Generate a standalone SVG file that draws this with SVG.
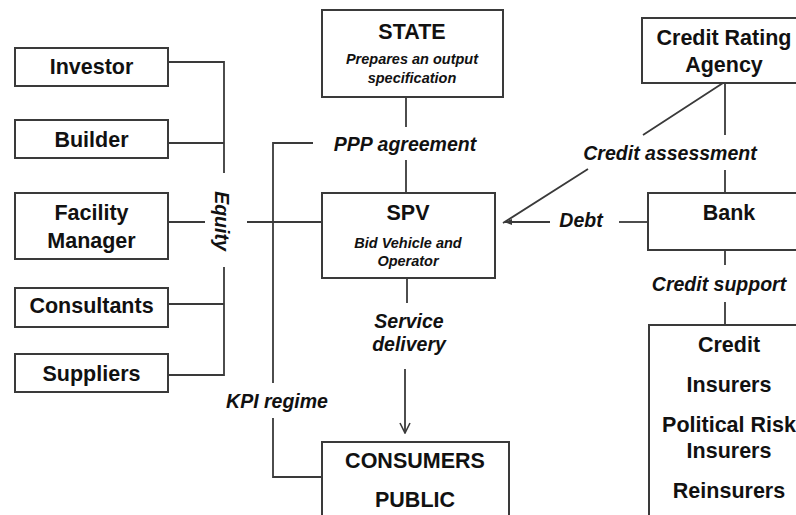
<svg xmlns="http://www.w3.org/2000/svg" width="796" height="515" viewBox="0 0 796 515">
  <style>
    .box { fill: #fff; stroke: #3a3a3a; stroke-width: 2; }
    .ln { fill: none; stroke: #3a3a3a; stroke-width: 1.8; }
    .t { font-family: "Liberation Sans", Arial, sans-serif; font-weight: bold; font-size: 21.5px; fill: #111; text-anchor: middle; }
    .s { font-family: "Liberation Sans", Arial, sans-serif; font-weight: bold; font-style: italic; font-size: 14.5px; fill: #111; text-anchor: middle; }
    .lbl { font-family: "Liberation Sans", Arial, sans-serif; font-weight: bold; font-style: italic; font-size: 19.5px; fill: #111; text-anchor: middle; }
  </style>
  <defs>
    <marker id="solid" viewBox="0 0 10 10" refX="9" refY="5" markerWidth="8" markerHeight="8" markerUnits="userSpaceOnUse" orient="auto">
      <path d="M0,1 L10,5 L0,9 Z" fill="#3a3a3a"/>
    </marker>
    <marker id="open" viewBox="0 0 12 12" refX="11" refY="6" markerWidth="12" markerHeight="12" markerUnits="userSpaceOnUse" orient="auto">
      <path d="M1,1 L11,6 L1,11" fill="none" stroke="#3a3a3a" stroke-width="1.6"/>
    </marker>
  </defs>
  <rect width="796" height="515" fill="#fff"/>

  <!-- connectors -->
  <g id="connectors">
    <!-- equity bracket -->
    <path class="ln" d="M168,62 H224 V173 M168,143 H224"/>
    <path class="ln" d="M168,222 H205 M247,222 H322"/>
    <path class="ln" d="M224,267 V375 H168 M168,304 H224"/>
    <text class="lbl" transform="translate(215,221) rotate(90)">Equity</text>
    <!-- KPI regime loop -->
    <path class="ln" d="M313,143 H273 V383"/>
    <path class="ln" d="M273,418 V477 H322"/>
    <text class="lbl" x="277" y="408">KPI regime</text>
    <!-- PPP agreement -->
    <path class="ln" d="M406,97 V127 M406,160 V193"/>
    <text class="lbl" x="405" y="151">PPP agreement</text>
    <!-- service delivery -->
    <path class="ln" d="M407,278 V303"/>
    <text class="lbl" x="409" y="328">Service</text>
    <text class="lbl" x="409" y="351">delivery</text>
    <path class="ln" d="M405,369 V433" marker-end="url(#open)"/>
    <!-- credit assessment -->
    <path class="ln" d="M725,83 V135 M725,170 V193"/>
    <path class="ln" d="M723,83 L643,135 M588,169 L503,223"/>
    <text class="lbl" x="670" y="160">Credit assessment</text>
    <!-- debt -->
    <path class="ln" d="M648,222 H619"/>
    <path class="ln" d="M550,222 H505" marker-end="url(#solid)"/>
    <text class="lbl" x="581" y="227">Debt</text>
    <!-- credit support -->
    <path class="ln" d="M725,250 V265 M725,302 V325"/>
    <text class="lbl" x="719" y="291">Credit support</text>
  </g>

  <g id="investor">
    <rect class="box" x="15" y="48" width="153" height="38"/>
    <text class="t" x="91.5" y="74">Investor</text>
  </g>
  <g id="builder">
    <rect class="box" x="15" y="120" width="153" height="38"/>
    <text class="t" x="91.5" y="147">Builder</text>
  </g>
  <g id="facility-manager">
    <rect class="box" x="15" y="193" width="153" height="66"/>
    <text class="t" x="91.5" y="220">Facility</text>
    <text class="t" x="91.5" y="248">Manager</text>
  </g>
  <g id="consultants">
    <rect class="box" x="15" y="288" width="153" height="39"/>
    <text class="t" x="91.5" y="313">Consultants</text>
  </g>
  <g id="suppliers">
    <rect class="box" x="15" y="354" width="153" height="38"/>
    <text class="t" x="91.5" y="381">Suppliers</text>
  </g>

  <g id="state">
    <rect class="box" x="322" y="10" width="181" height="87"/>
    <text class="t" x="412" y="39">STATE</text>
    <text class="s" x="412" y="64">Prepares an output</text>
    <text class="s" x="412" y="83">specification</text>
  </g>
  <g id="spv">
    <rect class="box" x="322" y="193" width="173" height="85"/>
    <text class="t" x="408" y="220">SPV</text>
    <text class="s" x="408" y="248">Bid Vehicle and</text>
    <text class="s" x="408" y="266">Operator</text>
  </g>
  <g id="consumers">
    <rect class="box" x="322" y="442" width="187" height="80"/>
    <text class="t" x="415" y="468">CONSUMERS</text>
    <text class="t" x="415" y="507">PUBLIC</text>
  </g>

  <g id="credit-rating-agency">
    <rect class="box" x="642" y="18" width="160" height="65"/>
    <text class="t" x="724" y="45">Credit Rating</text>
    <text class="t" x="724" y="72">Agency</text>
  </g>
  <g id="bank">
    <rect class="box" x="648" y="193" width="154" height="57"/>
    <text class="t" x="729" y="220">Bank</text>
  </g>
  <g id="insurers">
    <rect class="box" x="649" y="325" width="153" height="200"/>
    <text class="t" x="729" y="352">Credit</text>
    <text class="t" x="729" y="392">Insurers</text>
    <text class="t" x="729" y="432">Political Risk</text>
    <text class="t" x="729" y="458">Insurers</text>
    <text class="t" x="729" y="498">Reinsurers</text>
  </g>
</svg>
